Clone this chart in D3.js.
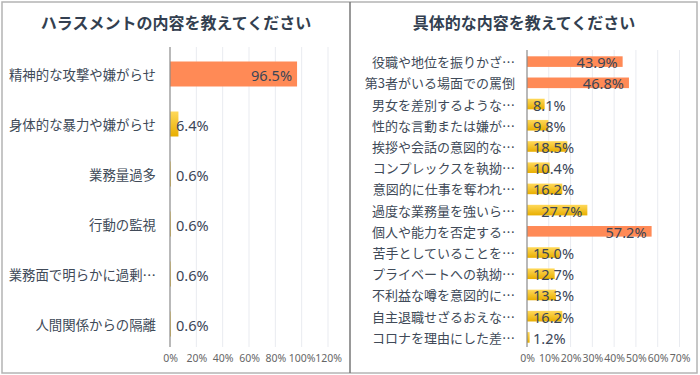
<!DOCTYPE html>
<html><head><meta charset="utf-8">
<script src="https://cdn.jsdelivr.net/npm/d3@7/dist/d3.min.js"></script>
<style>
html,body{margin:0;padding:0;background:#fff;}
svg{display:block;}
</style></head>
<body>
<svg id="chart" width="700" height="375"></svg>
<script>
// ---- data ----
const leftTitle = "ハラスメントの内容を教えてください";
const leftCategories = ["精神的な攻撃や嫌がらせ","身体的な暴力や嫌がらせ","業務量過多","行動の監視","業務面で明らかに過剰…","人間関係からの隔離"];
const leftValues = [96.5, 6.4, 0.6, 0.6, 0.6, 0.6];
const leftTicks = [0, 20, 40, 60, 80, 100, 120];

const rightTitle = "具体的な内容を教えてください";
const rightCategories = ["役職や地位を振りかざ…","第3者がいる場面での罵倒","男女を差別するような…","性的な言動または嫌が…","挨拶や会話の意図的な…","コンプレックスを執拗…","意図的に仕事を奪われ…","過度な業務量を強いら…","個人や能力を否定する…","苦手としていることを…","プライベートへの執拗…","不利益な噂を意図的に…","自主退職せざるおえな…","コロナを理由にした差…"];
const rightValues = [43.9, 46.8, 8.1, 9.8, 18.5, 10.4, 16.2, 27.7, 57.2, 15.0, 12.7, 13.3, 16.2, 1.2];
const rightTicks = [0, 10, 20, 30, 40, 50, 60, 70];

const svg = d3.select("#chart");
const defs = svg.append("defs");
const grad = defs.append("linearGradient").attr("id","yel").attr("x1",0).attr("y1",0).attr("x2",0).attr("y2",1);
grad.append("stop").attr("offset","0%").attr("stop-color","#FFD95A");
grad.append("stop").attr("offset","100%").attr("stop-color","#E8AE00");

const CJK = "'Noto Sans CJK JP', 'Noto Sans', sans-serif";
const NUM = "'Noto Sans', 'Noto Sans CJK JP', sans-serif";

// frame
svg.append("rect").attr("x",2).attr("y",2).attr("width",695).attr("height",371)
  .attr("fill","none").attr("stroke","#b4b4b4").attr("stroke-width",1.5);
svg.append("line").attr("x1",350).attr("x2",350).attr("y1",2).attr("y2",373)
  .attr("stroke","#777").attr("stroke-width",1.5);

function panel(cfg){
  const g = svg.append("g");
  g.append("text").attr("x",cfg.cx).attr("y",22).attr("text-anchor","middle")
    .attr("dominant-baseline","central").attr("font-family",CJK).attr("font-weight","bold")
    .attr("font-size",16).attr("fill","#333f50").text(cfg.title);

  const x = d3.scaleLinear().domain([0, cfg.max]).range([cfg.x0, cfg.x1]);
  const y = d3.scaleBand().domain(cfg.cats).range([cfg.y0, cfg.y1])
    .paddingInner(0.5).paddingOuter(0.25);

  // grid
  g.append("g").selectAll("line").data(cfg.ticks.slice(1)).join("line")
    .attr("x1",d=>x(d)).attr("x2",d=>x(d)).attr("y1",cfg.gTop).attr("y2",cfg.axisBottom)
    .attr("stroke","#e9ebf0").attr("stroke-width",1);

  // tick labels via axis
  const ax = g.append("g").attr("transform",`translate(0,${cfg.axisBottom})`)
    .call(d3.axisBottom(x).tickValues(cfg.ticks).tickFormat(d=>d+"%").tickSize(0).tickPadding(8));
  ax.select(".domain").remove();
  ax.selectAll("text").attr("font-family",NUM).attr("font-size",10.5).attr("fill","#666");

  // bars
  g.append("g").selectAll("rect").data(cfg.vals).join("rect")
    .attr("x",x(0)).attr("y",(d,i)=>y(cfg.cats[i]))
    .attr("width",d=>Math.max(0.8, x(d)-x(0))).attr("height",y.bandwidth())
    .attr("fill",d=> d>40 ? "#FF8A56" : "url(#yel)");

  // axis line
  g.append("line").attr("x1",x(0)).attr("x2",x(0)).attr("y1",cfg.gTop).attr("y2",cfg.axisBottom)
    .attr("stroke","#8a8a8a").attr("stroke-width",1.2);

  // category labels
  g.append("g").selectAll("text").data(cfg.cats).join("text")
    .attr("x",cfg.labelX).attr("y",d=>y(d)+y.bandwidth()/2).attr("text-anchor","end")
    .attr("dominant-baseline","central").attr("font-family",CJK).attr("font-size",cfg.catSize)
    .attr("fill","#404a58").text(d=>d);

  // value labels
  g.append("g").selectAll("text").data(cfg.vals).join("text")
    .attr("y",(d,i)=>y(cfg.cats[i])+y.bandwidth()/2+0.5)
    .attr("dominant-baseline","central").attr("font-family",NUM).attr("font-size",14.6)
    .attr("fill","#3b4657").attr("text-anchor","end")
    .text(d=>d.toFixed(1)+"%")
    .each(function(d){
      const w = this.getComputedTextLength();
      const xe = Math.max(x(d)-5, x(0)+6+w);
      d3.select(this).attr("x", xe);
    });
}

panel({title:leftTitle, cx:176, cats:leftCategories, vals:leftValues, ticks:leftTicks, max:120,
  x0:170, x1:328, y0:49, y1:349, gTop:47, axisBottom:347, labelX:156, catSize:13.4});
panel({title:rightTitle, cx:524, cats:rightCategories, vals:rightValues, ticks:rightTicks, max:70,
  x0:527, x1:679.5, y0:51, y1:348, gTop:50, axisBottom:347, labelX:515, catSize:13});
</script>
</body></html>
